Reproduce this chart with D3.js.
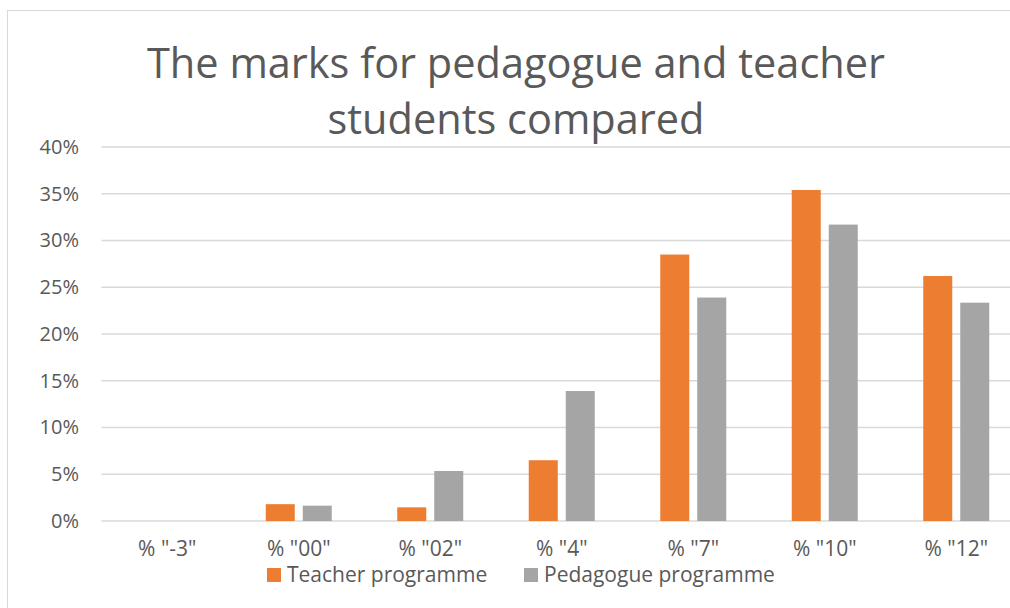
<!DOCTYPE html>
<html>
<head>
<meta charset="utf-8">
<script src="https://cdn.jsdelivr.net/npm/d3@7"></script>
<style>
  body { margin: 0; background: #fff; }
  svg { display: block; font-family: "Open Sans", sans-serif; }
</style>
</head>
<body>
<div id="chart"></div>
<script>
// chart data
var categories = ['% "-3"', '% "00"', '% "02"', '% "4"', '% "7"', '% "10"', '% "12"'];
var seriesNames = ["Teacher programme", "Pedagogue programme"];
var teacher = [0, 0.018, 0.0146, 0.065, 0.285, 0.354, 0.262];
var pedagogue = [0, 0.0164, 0.0535, 0.139, 0.239, 0.317, 0.2335];
var yTicks = [0, 0.05, 0.1, 0.15, 0.2, 0.25, 0.3, 0.35, 0.4];
var colors = ["#ED7D31", "#A5A5A5"];

function drawChart() {
    var width = 1010, height = 608;
    var plotLeft = 101.5, plotRight = 1022, plotTop = 147, plotBottom = 521;

    var svg = d3.select("#chart").append("svg")
        .attr("width", width)
        .attr("height", height);

    // chart border
    svg.append("rect")
        .attr("x", 7.5).attr("y", 10.5)
        .attr("width", 1030).attr("height", 620)
        .attr("fill", "none")
        .attr("stroke", "#d9d9d9")
        .attr("stroke-width", 1);

    // title
    var title = svg.append("text")
        .attr("text-anchor", "middle")
        .attr("fill", "#595959")
        .style("font-size", "41.5px");
    title.append("tspan").attr("x", 516).attr("y", 78).text("The marks for pedagogue and teacher");
    title.append("tspan").attr("x", 516).attr("y", 134).text("students compared");

    var y = d3.scaleLinear().domain([0, 0.4]).range([plotBottom, plotTop]);

    var x0 = d3.scaleBand().domain(categories).range([plotLeft, plotRight]).padding(0);
    var x1 = d3.scaleBand().domain(seriesNames).range([0, x0.bandwidth()])
        .paddingInner(0.216).paddingOuter(0.885);

    // gridlines
    svg.append("g").selectAll("line")
        .data(yTicks)
        .enter().append("line")
        .attr("x1", plotLeft).attr("x2", plotRight)
        .attr("y1", function(d) { return y(d); })
        .attr("y2", function(d) { return y(d); })
        .attr("stroke", "#d9d9d9")
        .attr("stroke-width", 1.5);

    // y axis labels
    var yAxis = d3.axisLeft(y).tickValues(yTicks).tickFormat(d3.format(".0%")).tickSize(0).tickPadding(0);
    var yg = svg.append("g").attr("transform", "translate(79,0)").call(yAxis);
    yg.select(".domain").remove();
    yg.selectAll("text").attr("fill", "#595959").style("font-size", "20px").style("font-family", "Open Sans, sans-serif");

    // bars
    var rows = categories.map(function(c, i) {
        return { cat: c, values: [teacher[i], pedagogue[i]] };
    });

    var groups = svg.append("g").selectAll("g")
        .data(rows)
        .enter().append("g")
        .attr("transform", function(d) { return "translate(" + x0(d.cat) + ",0)"; });

    groups.selectAll("rect")
        .data(function(d) { return d.values.map(function(v, j) { return { name: seriesNames[j], value: v, j: j }; }); })
        .enter().append("rect")
        .attr("x", function(d) { return x1(d.name); })
        .attr("width", x1.bandwidth())
        .attr("y", function(d) { return y(d.value); })
        .attr("height", function(d) { return plotBottom - y(d.value); })
        .attr("fill", function(d) { return colors[d.j]; });

    // x axis labels
    var xAxis = d3.axisBottom(x0).tickSize(0).tickPadding(0);
    var xg = svg.append("g").attr("transform", "translate(0,541)").call(xAxis);
    xg.select(".domain").remove();
    xg.selectAll("text").attr("fill", "#595959").style("font-size", "21px").style("font-family", "Open Sans, sans-serif");

    // legend
    var legendX = [267, 524];
    var legend = svg.append("g").selectAll("g")
        .data(seriesNames)
        .enter().append("g")
        .attr("transform", function(d, i) { return "translate(" + legendX[i] + ",568)"; });
    legend.append("rect")
        .attr("width", 14).attr("height", 14)
        .attr("fill", function(d, i) { return colors[i]; });
    legend.append("text")
        .attr("x", 20).attr("y", 14)
        .attr("fill", "#595959")
        .style("font-size", "21px")
        .text(function(d) { return d; });
}

drawChart();
</script>
</body>
</html>
